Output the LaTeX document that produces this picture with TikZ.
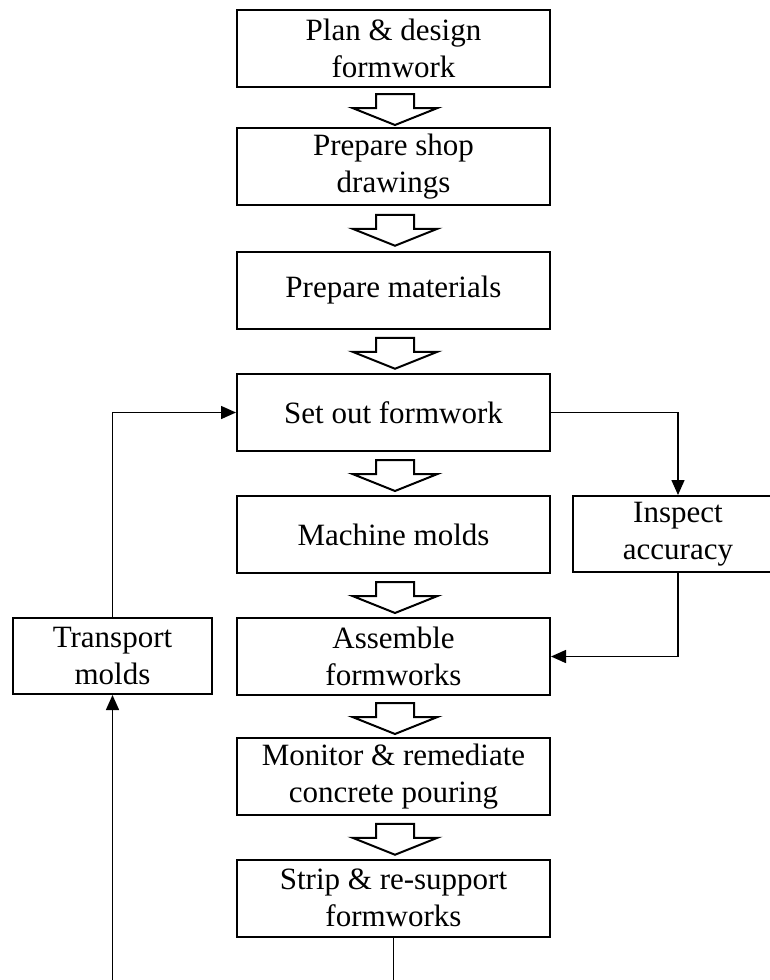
\documentclass[tikz,border=0pt]{standalone}
\usepackage{fontspec}
\setmainfont{Liberation Serif}
\usetikzlibrary{calc,arrows.meta}
\tikzset{
  box/.style={draw, line width=1pt, inner sep=0pt, align=center,
    minimum width=156.5pt, minimum height=38.5pt,
    font=\fontsize{15.5pt}{18.5pt}\selectfont},
  sidebox/.style={box, minimum height=38pt},
  conn/.style={line width=0.75pt, -{Triangle[length=7.5pt,width=6.5pt]}},
  plainline/.style={line width=0.75pt},
  harrowstyle/.style={draw, line width=1pt, fill=white, line join=miter},
  pics/harrow/.style={code={
    \path[harrowstyle] (-19,-15.5) -- (19,-15.5) -- (19,-1.5) -- (42.5,-1.5)
      -- (0,15.5) -- (-42.5,-1.5) -- (-19,-1.5) -- cycle;}}
}
\newcommand\hollowarrow[2]{\pic at ($(#1.south)!0.5!(#2.north)+(1.5,2)$) {harrow};}
\begin{document}
\begin{tikzpicture}[x=0.5pt,y=-0.5pt]
\useasboundingbox (0,0) rectangle (770,980);
\clip (0,0) rectangle (770,980);
\node[box] (b1) at (393.5,48.5) {Plan \& design\\formwork};
\node[box] (b2) at (393.5,166.5) {Prepare shop\\drawings};
\node[box] (b3) at (393.5,290) {Prepare materials};
\node[box] (b4) at (393.5,412.5) {Set out formwork};
\node[box] (b5) at (393.5,534.5) {Machine molds};
\node[box] (b6) at (393.5,656.5) {Assemble\\formworks};
\node[box] (b7) at (393.5,776.5) {Monitor \& remediate\\concrete pouring};
\node[box] (b8) at (393.5,898) {Strip \& re-support\\formworks};
\node[sidebox, minimum width=105pt] (insp) at (678,534) {Inspect\\accuracy};
\node[sidebox, minimum width=99.5pt] (trans) at (112.5,656) {Transport\\molds};
\coordinate (bottom) at (0,990);
\hollowarrow{b1}{b2}
\hollowarrow{b2}{b3}
\hollowarrow{b3}{b4}
\hollowarrow{b4}{b5}
\hollowarrow{b5}{b6}
\hollowarrow{b6}{b7}
\hollowarrow{b7}{b8}
\draw[conn] (b4.east) -| (insp.north);
\draw[conn] (insp.south) |- (b6.east);
\draw[conn] (trans.north) |- (b4.west);
\draw[plainline] (b8.south) -- (b8.south |- bottom);
\draw[conn] (trans.south |- bottom) -- (trans.south);
\end{tikzpicture}
\end{document}
